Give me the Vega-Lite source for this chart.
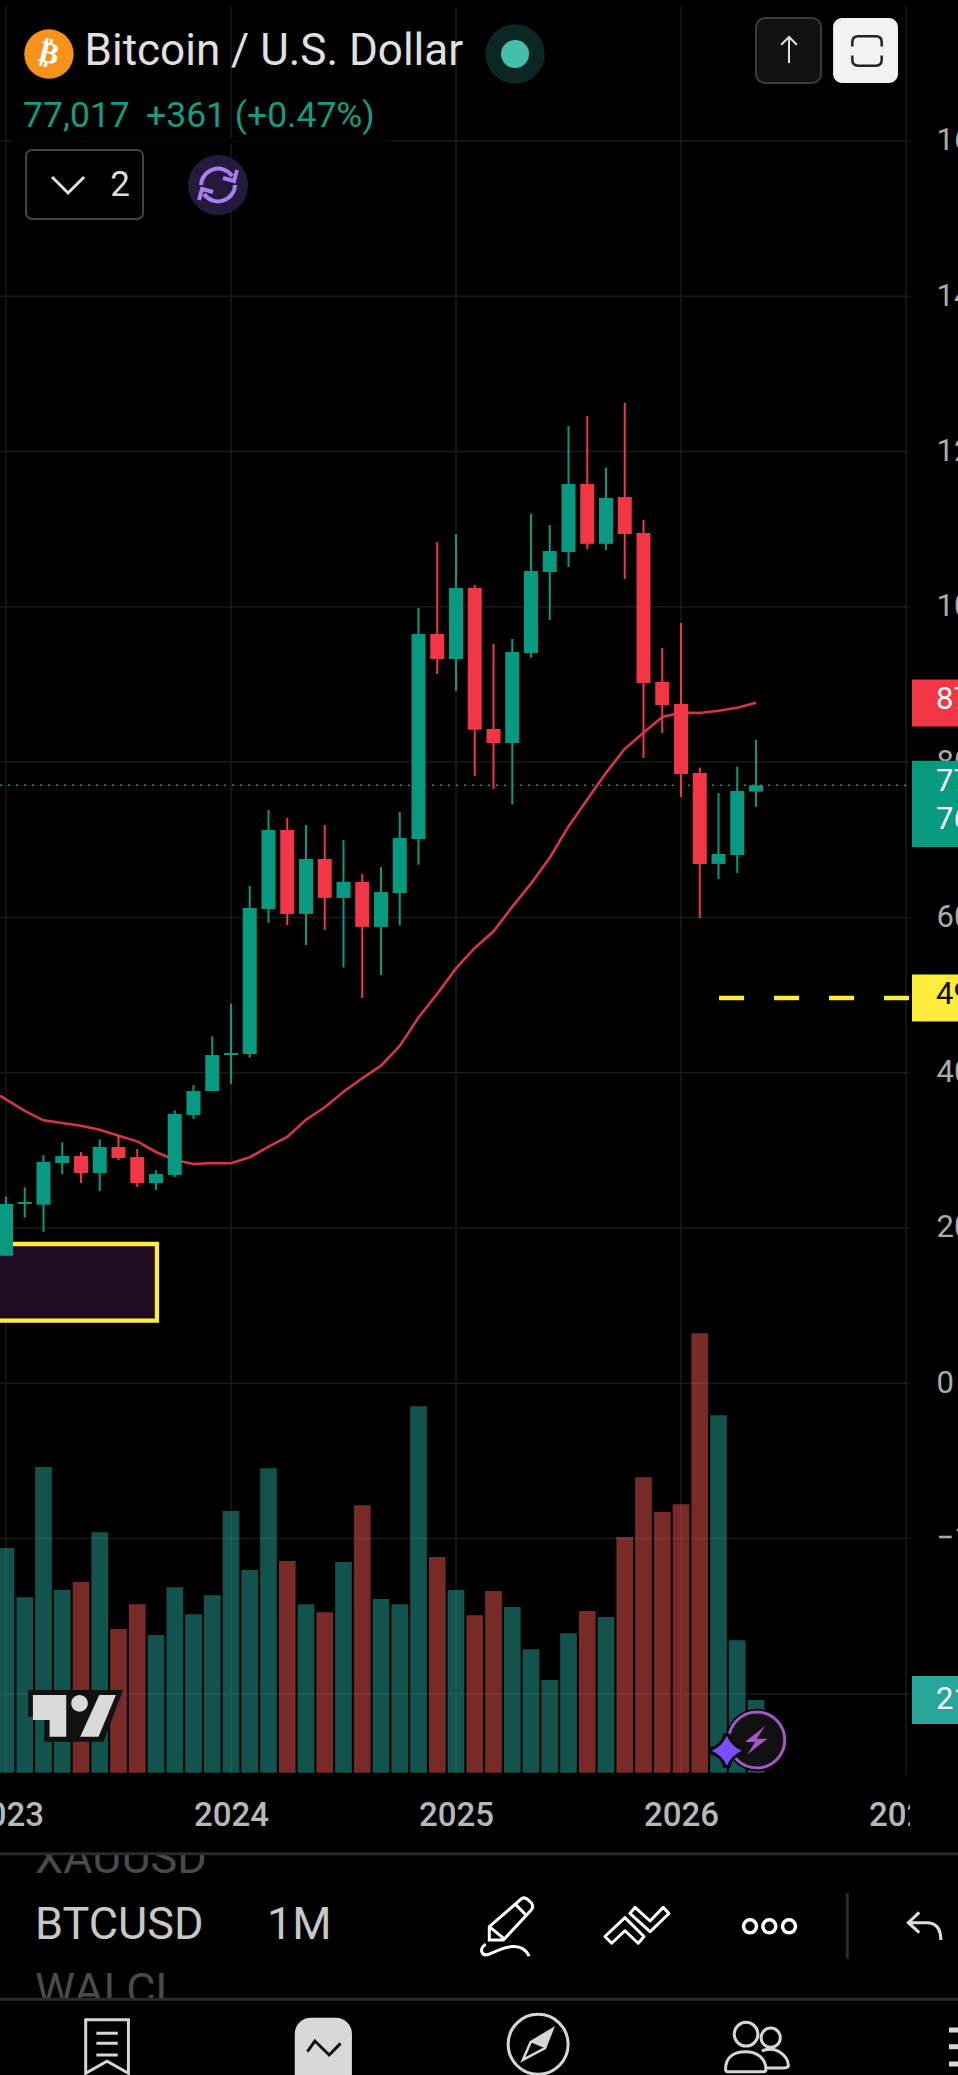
{
  "$schema": "https://vega.github.io/schema/vega-lite/v6.json",
  "width": 958,
  "height": 2075,
  "autosize": {"type": "none"},
  "padding": 0,
  "background": "#000000",
  "config": {"view": {"stroke": null}, "point": {"opacity": 1}, "font": "Roboto"},
  "datasets": {
    "candles": [
      {"m": -12, "open": 16430, "high": 24030, "low": 16430, "close": 23090, "vol": 64.9, "dir": "up"},
      {"m": -11, "open": 23090, "high": 25240, "low": 21330, "close": 23350, "vol": 50.7, "dir": "up"},
      {"m": -10, "open": 23000, "high": 29360, "low": 19520, "close": 28500, "vol": 88.3, "dir": "up"},
      {"m": -9, "open": 28370, "high": 31040, "low": 26950, "close": 29270, "vol": 52.8, "dir": "up"},
      {"m": -8, "open": 29270, "high": 29790, "low": 25790, "close": 27080, "vol": 55.1, "dir": "down"},
      {"m": -7, "open": 27080, "high": 31420, "low": 24760, "close": 30430, "vol": 69.5, "dir": "up"},
      {"m": -6, "open": 30430, "high": 31850, "low": 28760, "close": 29010, "vol": 41.5, "dir": "down"},
      {"m": -5, "open": 29140, "high": 30170, "low": 25280, "close": 25790, "vol": 48.7, "dir": "down"},
      {"m": -4, "open": 25790, "high": 27430, "low": 24890, "close": 26950, "vol": 39.8, "dir": "up"},
      {"m": -3, "open": 26830, "high": 35160, "low": 26570, "close": 34680, "vol": 53.6, "dir": "up"},
      {"m": -2, "open": 34550, "high": 38410, "low": 34040, "close": 37640, "vol": 45.8, "dir": "up"},
      {"m": -1, "open": 37640, "high": 44690, "low": 37640, "close": 42280, "vol": 51.3, "dir": "up"},
      {"m": 0, "open": 42280, "high": 48900, "low": 38540, "close": 42540, "vol": 75.6, "dir": "up"},
      {"m": 1, "open": 42410, "high": 64070, "low": 41930, "close": 61210, "vol": 58.6, "dir": "up"},
      {"m": 2, "open": 61080, "high": 73830, "low": 59290, "close": 71250, "vol": 88.0, "dir": "up"},
      {"m": 3, "open": 71250, "high": 72800, "low": 59020, "close": 60450, "vol": 61.2, "dir": "down"},
      {"m": 4, "open": 60450, "high": 71900, "low": 56440, "close": 67520, "vol": 48.7, "dir": "up"},
      {"m": 5, "open": 67520, "high": 71900, "low": 58380, "close": 62510, "vol": 46.4, "dir": "down"},
      {"m": 6, "open": 62510, "high": 69970, "low": 53550, "close": 64580, "vol": 60.9, "dir": "up"},
      {"m": 7, "open": 64580, "high": 65590, "low": 49630, "close": 58780, "vol": 77.3, "dir": "down"},
      {"m": 8, "open": 58780, "high": 66490, "low": 52580, "close": 63270, "vol": 50.2, "dir": "up"},
      {"m": 9, "open": 63140, "high": 73570, "low": 58960, "close": 70220, "vol": 48.7, "dir": "up"},
      {"m": 10, "open": 70110, "high": 99840, "low": 66770, "close": 96500, "vol": 105.9, "dir": "up"},
      {"m": 11, "open": 96500, "high": 108340, "low": 91340, "close": 93280, "vol": 62.3, "dir": "down"},
      {"m": 12, "open": 93280, "high": 109370, "low": 89150, "close": 102420, "vol": 52.8, "dir": "up"},
      {"m": 13, "open": 102420, "high": 102810, "low": 78210, "close": 84180, "vol": 45.5, "dir": "down"},
      {"m": 14, "open": 84260, "high": 95230, "low": 76530, "close": 82460, "vol": 52.5, "dir": "down"},
      {"m": 15, "open": 82460, "high": 95850, "low": 74540, "close": 94190, "vol": 47.9, "dir": "up"},
      {"m": 16, "open": 94050, "high": 111950, "low": 93440, "close": 104610, "vol": 35.7, "dir": "up"},
      {"m": 17, "open": 104480, "high": 110530, "low": 98300, "close": 107180, "vol": 26.8, "dir": "up"},
      {"m": 18, "open": 107070, "high": 123280, "low": 105120, "close": 115810, "vol": 40.3, "dir": "up"},
      {"m": 19, "open": 115810, "high": 124570, "low": 107440, "close": 108110, "vol": 46.7, "dir": "down"},
      {"m": 20, "open": 108110, "high": 117940, "low": 107310, "close": 114020, "vol": 45.0, "dir": "up"},
      {"m": 21, "open": 114140, "high": 126240, "low": 103580, "close": 109370, "vol": 68.1, "dir": "down"},
      {"m": 22, "open": 109500, "high": 111180, "low": 80530, "close": 90180, "vol": 85.4, "dir": "down"},
      {"m": 23, "open": 90340, "high": 94690, "low": 83750, "close": 87350, "vol": 75.3, "dir": "down"},
      {"m": 24, "open": 87480, "high": 97910, "low": 75500, "close": 78470, "vol": 77.6, "dir": "down"},
      {"m": 25, "open": 78590, "high": 79300, "low": 59920, "close": 66880, "vol": 127.0, "dir": "down"},
      {"m": 26, "open": 66880, "high": 76020, "low": 64940, "close": 68160, "vol": 103.3, "dir": "up"},
      {"m": 27, "open": 68030, "high": 79420, "low": 65720, "close": 76280, "vol": 38.3, "dir": "up"},
      {"m": 28, "open": 76200, "high": 82870, "low": 74240, "close": 77017, "vol": 21.0, "dir": "up"}
    ],
    "ma": [
      {"m": -12.32, "p": 37040}, {"m": -12, "p": 36570}, {"m": -11, "p": 35070}, {"m": -10, "p": 33870},
      {"m": -9, "p": 33520}, {"m": -8, "p": 33170}, {"m": -7, "p": 32660}, {"m": -6, "p": 31890},
      {"m": -5, "p": 31160}, {"m": -4, "p": 29790}, {"m": -3, "p": 28760}, {"m": -2, "p": 28240},
      {"m": -1, "p": 28370}, {"m": 0, "p": 28330}, {"m": 1, "p": 29100}, {"m": 2, "p": 30470},
      {"m": 3, "p": 31720}, {"m": 4, "p": 33950}, {"m": 5, "p": 35540}, {"m": 6, "p": 37550},
      {"m": 7, "p": 39280}, {"m": 8, "p": 40900}, {"m": 9, "p": 43440}, {"m": 10, "p": 47110},
      {"m": 11, "p": 50160}, {"m": 12, "p": 53430}, {"m": 13, "p": 56070}, {"m": 14, "p": 58210},
      {"m": 15, "p": 61360}, {"m": 16, "p": 64350}, {"m": 17, "p": 67690}, {"m": 18, "p": 71720},
      {"m": 19, "p": 75170}, {"m": 20, "p": 78610}, {"m": 21, "p": 81710}, {"m": 22, "p": 83780},
      {"m": 23, "p": 85810}, {"m": 24, "p": 86370}, {"m": 25, "p": 86320}, {"m": 26, "p": 86600},
      {"m": 27, "p": 87000}, {"m": 28, "p": 87640}
    ]
  },
  "resolve": {"scale": {"y": "independent", "color": "independent"}},
  "encoding": {
    "x": {
      "field": "m",
      "type": "quantitative",
      "scale": {"domain": [-12.32, 38.773], "nice": false, "zero": false, "padding": 0},
      "axis": {
        "title": null, "grid": false, "domain": false, "ticks": false,
        "values": [-12, 0, 12, 24, 36],
        "labelExpr": "'' + (2024 + datum.value / 12)",
        "offset": -260, "labelPadding": 0, "labelBaseline": "middle",
        "labelFont": "Roboto", "labelFontSize": 33, "labelFontWeight": 500, "labelColor": "#b8b8b8",
        "labelOverlap": false, "labelFlush": false, "labelBound": false
      }
    },
    "y": {
      "field": "p",
      "type": "quantitative",
      "scale": {"domain": [-89077, 178141], "nice": false, "zero": false},
      "axis": null
    }
  },
  "layer": [
    {
      "encoding": {
        "y": {
          "field": "p",
          "type": "quantitative",
          "scale": {"domain": [-89077, 178141], "nice": false, "zero": false},
          "axis": {
            "orient": "right", "title": null, "grid": false, "domain": false, "ticks": false,
            "values": [160000, 140000, 120000, 100000, 80000, 60000, 40000, 20000, 0, -20000],
            "labelExpr": "datum.value < 0 ? '−19,999.99' : format(datum.value, ',d')",
            "offset": -22, "labelPadding": 0, "labelAlign": "left", "labelBaseline": "middle",
            "labelFont": "Roboto", "labelFontSize": 31, "labelColor": "#aaaaaa",
            "labelOverlap": false, "labelBound": false, "labelFlush": false
          }
        }
      },
      "layer": [
        {
          "data": {"values": [
            {"m": -12.32, "m2": 36.21, "p": 160000}, {"m": -12.32, "m2": 36.21, "p": 140000},
            {"m": -12.32, "m2": 36.21, "p": 120000}, {"m": -12.32, "m2": 36.21, "p": 100000},
            {"m": -12.32, "m2": 36.21, "p": 80000}, {"m": -12.32, "m2": 36.21, "p": 60000},
            {"m": -12.32, "m2": 36.21, "p": 40000}, {"m": -12.32, "m2": 36.21, "p": 20000},
            {"m": -12.32, "m2": 36.21, "p": 0}, {"m": -12.32, "m2": 36.21, "p": -20000},
            {"m": -12.32, "m2": 36.21, "p": -40000}
          ]},
          "mark": {"type": "rule", "stroke": "#1a1a1a", "strokeWidth": 1.5},
          "encoding": {"x2": {"field": "m2"}}
        },
        {
          "data": {"values": [
            {"m": -12, "p": 177240, "p2": -50443}, {"m": 0, "p": 177240, "p2": -50443},
            {"m": 12, "p": 177240, "p2": -50443}, {"m": 24, "p": 177240, "p2": -50443},
            {"m": 36, "p": 177240, "p2": -50443}
          ]},
          "mark": {"type": "rule", "stroke": "#1a1a1a", "strokeWidth": 1.5},
          "encoding": {"y2": {"field": "p2"}}
        },
        {
          "data": {"values": [{"m": -11.68, "m2": 8.53, "p": 160370, "p2": 159597}]},
          "mark": {"type": "rect", "fill": "#000000", "opacity": 0.7},
          "encoding": {"x2": {"field": "m2"}, "y2": {"field": "p2"}}
        }
      ]
    },
    {
      "data": {"name": "candles"},
      "mark": {"type": "bar", "size": 16.7, "opacity": 0.5},
      "encoding": {
        "y": {
          "field": "vol",
          "type": "quantitative",
          "scale": {"domain": [-87.34, 512.2], "nice": false, "zero": false},
          "axis": null
        },
        "y2": {"datum": 0},
        "color": {
          "field": "dir",
          "type": "nominal",
          "scale": {"domain": ["up", "down"], "range": ["#26a69a", "#ef5350"]},
          "legend": null
        }
      }
    },
    {
      "layer": [
        {
          "data": {"values": [{"m": -13, "m2": -3.95, "p": 17940, "p2": 8060}]},
          "mark": {"type": "rect", "fill": "#1f0b22", "stroke": "#ffeb3b", "strokeWidth": 4.3},
          "encoding": {"x2": {"field": "m2"}, "y2": {"field": "p2"}}
        },
        {
          "data": {"values": [{"m": -12.32, "m2": 36.21, "p": 77017}]},
          "mark": {"type": "rule", "stroke": "#089981", "strokeWidth": 1.5, "strokeDash": [2, 6]},
          "encoding": {"x2": {"field": "m2"}}
        },
        {
          "data": {"values": [{"m": 26.03, "m2": 36.16, "p": 49620}]},
          "mark": {"type": "rule", "stroke": "#ffeb3b", "strokeWidth": 4.5, "strokeDash": [25, 30]},
          "encoding": {"x2": {"field": "m2"}}
        },
        {
          "data": {"name": "ma"},
          "mark": {"type": "line", "stroke": "#d63545", "strokeWidth": 2.6},
          "encoding": {}
        },
        {
          "data": {"name": "candles"},
          "mark": {"type": "rule", "strokeWidth": 2},
          "encoding": {
            "y": {"field": "low", "type": "quantitative", "scale": {"domain": [-89077, 178141], "nice": false, "zero": false}, "axis": null},
            "y2": {"field": "high"},
            "color": {"field": "dir", "type": "nominal", "scale": {"domain": ["up", "down"], "range": ["#089981", "#f23645"]}, "legend": null}
          }
        },
        {
          "data": {"name": "candles"},
          "mark": {"type": "bar", "size": 14},
          "encoding": {
            "y": {"field": "open", "type": "quantitative", "scale": {"domain": [-89077, 178141], "nice": false, "zero": false}, "axis": null},
            "y2": {"field": "close"},
            "color": {"field": "dir", "type": "nominal", "scale": {"domain": ["up", "down"], "range": ["#089981", "#f23645"]}, "legend": null}
          }
        },
        {
          "data": {"values": [{"m": 36.32, "m2": 38.8, "p": 90622, "p2": 84596}]},
          "mark": {"type": "rect", "fill": "#f23645"},
          "encoding": {"x2": {"field": "m2"}, "y2": {"field": "p2"}}
        },
        {
          "data": {"values": [{"m": 36.32, "m2": 38.8, "p": 80166, "p2": 69065}]},
          "mark": {"type": "rect", "fill": "#089981"},
          "encoding": {"x2": {"field": "m2"}, "y2": {"field": "p2"}}
        },
        {
          "data": {"values": [{"m": 36.32, "m2": 38.8, "p": 52632, "p2": 46593}]},
          "mark": {"type": "rect", "fill": "#ffeb3b"},
          "encoding": {"x2": {"field": "m2"}, "y2": {"field": "p2"}}
        },
        {
          "data": {"values": [{"m": 36.32, "m2": 38.8, "p": -37694, "p2": -43875}]},
          "mark": {"type": "rect", "fill": "#26a69a"},
          "encoding": {"x2": {"field": "m2"}, "y2": {"field": "p2"}}
        },
        {
          "data": {"values": [
            {"m": 37.6, "p": 87995, "label": "87,281"},
            {"m": 37.6, "p": 77435, "label": "77,017"},
            {"m": 37.6, "p": 72580, "label": "76,656"},
            {"m": 37.6, "p": -40785, "label": "21.4K"}
          ]},
          "mark": {"type": "text", "align": "left", "baseline": "middle", "font": "Roboto", "fontSize": 31, "fill": "#ffffff"},
          "encoding": {"text": {"field": "label"}}
        },
        {
          "data": {"values": [{"m": 37.6, "p": 50006, "label": "49,620"}]},
          "mark": {"type": "text", "align": "left", "baseline": "middle", "font": "Roboto", "fontSize": 31, "fill": "#111111"},
          "encoding": {"text": {"field": "label"}}
        },
        {
          "data": {"values": [{"m": -7.81, "p": 171445, "label": "Bitcoin / U.S. Dollar"}]},
          "mark": {"type": "text", "align": "left", "baseline": "middle", "font": "Roboto", "fontSize": 44, "fill": "#e0e0e0"},
          "encoding": {"text": {"field": "label"}}
        },
        {
          "data": {"values": [
            {"m": -11.09, "p": 163203, "label": "77,017"},
            {"m": -4.53, "p": 163203, "label": "+361 (+0.47%)"}
          ]},
          "mark": {"type": "text", "align": "left", "baseline": "middle", "font": "Roboto", "fontSize": 35.5, "fill": "#189a84"},
          "encoding": {"text": {"field": "label"}}
        },
        {
          "data": {"values": [{"m": -9.71, "p": 171188}]},
          "mark": {"type": "point", "shape": "circle", "size": 2440, "filled": true, "fill": "#f7931a"}
        },
        {
          "data": {"values": [{"m": -9.71, "p": 171188, "label": "₿"}]},
          "mark": {"type": "text", "align": "center", "baseline": "middle", "font": "DejaVu Sans", "fontSize": 30, "fontWeight": "bold", "angle": 14, "fill": "#ffffff"},
          "encoding": {"text": {"field": "label"}}
        },
        {
          "data": {"values": [{"m": 15.15, "p": 171188}]},
          "mark": {"type": "point", "shape": "circle", "size": 3528, "filled": true, "fill": "#0a2723"}
        },
        {
          "data": {"values": [{"m": 15.15, "p": 171188}]},
          "mark": {"type": "point", "shape": "circle", "size": 784, "filled": true, "fill": "#45bfa9"}
        },
        {
          "data": {"values": [{"m": 28, "m2": 31.47, "p": 175823, "p2": 167453}]},
          "mark": {"type": "rect", "fill": "#111111", "stroke": "#3c3c3c", "strokeWidth": 2, "cornerRadius": 9},
          "encoding": {"x2": {"field": "m2"}, "y2": {"field": "p2"}}
        },
        {
          "data": {"values": [{"m": 32.11, "m2": 35.57, "p": 175823, "p2": 167453}]},
          "mark": {"type": "rect", "fill": "#f2f2f2", "cornerRadius": 9},
          "encoding": {"x2": {"field": "m2"}, "y2": {"field": "p2"}}
        },
        {
          "data": {"values": [{"m": 29.76, "p": 171700}]},
          "mark": {"type": "point", "shape": "M0,1 L0,-1 M-0.6,-0.4 L0,-1 L0.6,-0.4", "size": 676, "filled": false, "stroke": "#e0e0e0", "strokeWidth": 2}
        },
        {
          "data": {"values": [{"m": 33.92, "p": 171574}]},
          "mark": {"type": "point", "shape": "M-1,-0.3 L-1,-0.6 Q-1,-1 -0.6,-1 L0.6,-1 Q1,-1 1,-0.6 L1,-0.3 M-1,0.3 L-1,0.6 Q-1,1 -0.6,1 L0.6,1 Q1,1 1,0.6 L1,0.3", "size": 864, "filled": false, "stroke": "#222222", "strokeWidth": 2.5}
        },
        {
          "data": {"values": [{"m": -10.93, "m2": -4.69, "p": 158825, "p2": 149939}]},
          "mark": {"type": "rect", "fill": "#000000", "stroke": "#444444", "strokeWidth": 2, "cornerRadius": 6},
          "encoding": {"x2": {"field": "m2"}, "y2": {"field": "p2"}}
        },
        {
          "data": {"values": [{"m": -8.69, "p": 154317}]},
          "mark": {"type": "point", "shape": "M-1,-0.5 L0,0.5 L1,-0.5", "size": 1024, "filled": false, "stroke": "#e0e0e0", "strokeWidth": 3}
        },
        {
          "data": {"values": [{"m": -5.92, "p": 154317, "label": "2"}]},
          "mark": {"type": "text", "align": "center", "baseline": "middle", "font": "Roboto", "fontSize": 35, "fill": "#dddddd"},
          "encoding": {"text": {"field": "label"}}
        },
        {
          "data": {"values": [{"m": -0.69, "p": 154317}]},
          "mark": {"type": "point", "shape": "circle", "size": 3600, "filled": true, "fill": "#251a3c"}
        },
        {
          "data": {"values": [{"m": -0.69, "p": 154317}]},
          "mark": {"type": "point", "shape": "M-0.85,0 A0.85,0.85 0 0 1 0.7,-0.45 M0.95,-0.75 L0.8,-0.2 L0.25,-0.35 M0.85,0 A0.85,0.85 0 0 1 -0.7,0.45 M-0.95,0.75 L-0.8,0.2 L-0.25,0.35", "size": 1600, "filled": false, "stroke": "#a77ff0", "strokeWidth": 4}
        },
        {
          "data": {"values": [{"m": -8.29, "p": -42845}]},
          "mark": {"type": "point", "shape": "M-1,-0.547 L1,-0.547 L0.59,0.54 L-0.66,0.54 L-0.66,0.014 L-1,0.014 Z", "size": 9025, "filled": true, "fill": "#111111"}
        },
        {
          "data": {"values": [{"m": -8.29, "p": -42845}]},
          "mark": {"type": "point", "shape": "M-0.898,-0.442 L-0.196,-0.442 L-0.196,0.435 L-0.547,0.435 L-0.547,0.084 L-0.898,0.084 Z M0.498,-0.442 L0.849,-0.442 L0.484,0.435 L0.098,0.435 Z M-0.091,-0.267 A0.175,0.175 0 1 0 0.259,-0.267 A0.175,0.175 0 1 0 -0.091,-0.267 Z", "size": 9025, "filled": true, "fill": "#d9d9d9"}
        },
        {
          "data": {"values": [{"m": 28.04, "p": -45936}]},
          "mark": {"type": "point", "shape": "circle", "size": 3844, "filled": true, "fill": "#000000"}
        },
        {
          "data": {"values": [{"m": 28.04, "p": -45936}]},
          "mark": {"type": "point", "shape": "circle", "size": 3136, "filled": true, "fill": "#111111", "stroke": "#a855c8", "strokeWidth": 3}
        },
        {
          "data": {"values": [{"m": 28.04, "p": -45936}]},
          "mark": {"type": "point", "shape": "M0.55,-0.93 L-0.78,0.13 L-0.11,0.13 L-0.62,0.96 L0.71,-0.09 L0,-0.09 Z", "size": 900, "filled": true, "fill": "#ab52cf"}
        },
        {
          "data": {"values": [{"m": 26.44, "p": -47314}]},
          "mark": {"type": "point", "shape": "M0,-1 Q0.15,-0.15 1,0 Q0.15,0.15 0,1 Q-0.15,0.15 -1,0 Q-0.15,-0.15 0,-1 Z", "size": 1100, "filled": true, "fill": "#0a0a0a", "stroke": "#0a0a0a", "strokeWidth": 7}
        },
        {
          "data": {"values": [{"m": 26.44, "p": -47314}]},
          "mark": {"type": "point", "shape": "M0,-1 Q0.3,-0.3 1,0 Q0.3,0.3 0,1 Q-0.3,0.3 -1,0 Q-0.3,-0.3 0,-1 Z", "size": 900, "filled": true, "fill": "#7c4dff"}
        },
        {
          "data": {"values": [
            {"m": -10.45, "p": -61261, "label": "XAUUSD"},
            {"m": -10.45, "p": -78260, "label": "WALCL"}
          ]},
          "mark": {"type": "text", "align": "left", "baseline": "middle", "font": "Roboto", "fontSize": 45, "fill": "#4a4a4a"},
          "encoding": {"text": {"field": "label"}}
        },
        {
          "data": {"values": [
            {"m": -10.45, "p": -69760, "label": "BTCUSD"},
            {"m": 1.92, "p": -69760, "label": "1M"}
          ]},
          "mark": {"type": "text", "align": "left", "baseline": "middle", "font": "Roboto", "fontSize": 45, "fill": "#c8c8c8"},
          "encoding": {"text": {"field": "label"}}
        },
        {
          "data": {"values": [
            {"m": -12.32, "m2": 38.8, "p": -58170, "p2": -60578},
            {"m": -12.32, "m2": 38.8, "p": -79328, "p2": -89077},
            {"m": 36.21, "m2": 38.8, "p": -52374, "p2": -58813}
          ]},
          "mark": {"type": "rect", "fill": "#000000"},
          "encoding": {"x2": {"field": "m2"}, "y2": {"field": "p2"}}
        },
        {
          "data": {"values": [
            {"m": -12.32, "m2": 38.8, "p": -60578},
            {"m": -12.32, "m2": 38.8, "p": -79328}
          ]},
          "mark": {"type": "rule", "stroke": "#2a2a2a", "strokeWidth": 3},
          "encoding": {"x2": {"field": "m2"}}
        },
        {
          "data": {"values": [{"m": 14.72, "p": -69979}]},
          "mark": {"type": "point", "shape": "M-0.59,0.44 L-0.59,0 L0.49,-0.94 Q0.6,-1 0.72,-0.88 L0.82,-0.78 Q0.9,-0.65 0.8,-0.55 L-0.12,0.44 Z M0.27,-0.76 L0.63,-0.39 M-0.55,0.03 L-0.12,0.38 M-0.71,0.58 C-0.95,0.75 -0.85,1 -0.6,0.92 C-0.2,0.75 0.45,0.4 0.74,0.98", "size": 3600, "filled": false, "stroke": "#ffffff", "strokeWidth": 3}
        },
        {
          "data": {"values": [{"m": 21.65, "p": -69760}]},
          "mark": {"type": "point", "shape": "M-1,0.36 L-0.375,-0.23 L0.22,0.36 L0.04,0.57 L-0.375,0.18 L-0.79,0.57 Z M-0.22,-0.36 L-0.06,-0.55 L0.41,-0.125 L0.82,-0.55 L1,-0.36 L0.41,0.21 Z", "size": 4096, "filled": false, "stroke": "#ffffff", "strokeWidth": 3, "strokeJoin": "round"}
        },
        {
          "data": {"values": [{"m": 27.68, "p": -69928}, {"m": 28.71, "p": -69928}, {"m": 29.76, "p": -69928}]},
          "mark": {"type": "point", "shape": "circle", "size": 169, "filled": false, "stroke": "#ffffff", "strokeWidth": 3.5}
        },
        {
          "data": {"values": [{"m": 32.87, "p": -65639, "p2": -74100}]},
          "mark": {"type": "rule", "stroke": "#2a2a2a", "strokeWidth": 3},
          "encoding": {"y2": {"field": "p2"}}
        },
        {
          "data": {"values": [{"m": 37.01, "p": -69888}]},
          "mark": {"type": "point", "shape": "M-0.32,-0.77 L-0.94,-0.19 L-0.32,0.38 M-0.94,-0.19 L0.1,-0.19 Q0.9,-0.19 0.9,0.79", "size": 1253, "filled": false, "stroke": "#dddddd", "strokeWidth": 3}
        },
        {
          "data": {"values": [{"m": -6.61, "p": -85407}]},
          "mark": {"type": "point", "shape": "M-0.8,-1 L0.8,-1 L0.8,1 L0,0.55 L-0.8,1 Z M-0.4,-0.5 L0.4,-0.5 M-0.4,-0.12 L0.4,-0.12 M-0.4,0.32 L0.4,0.32", "size": 2852, "filled": false, "stroke": "#d6d6d6", "strokeWidth": 3}
        },
        {
          "data": {"values": [{"m": 3.4, "m2": 6.45, "p": -81698, "p2": -92000}]},
          "mark": {"type": "rect", "fill": "#d8d8d8", "cornerRadius": 16},
          "encoding": {"x2": {"field": "m2"}, "y2": {"field": "p2"}}
        },
        {
          "data": {"values": [{"m": 4.96, "p": -85665}]},
          "mark": {"type": "point", "shape": "M-1,0.19 L-0.55,-0.45 L0.31,0.39 L1,-0.31", "size": 1102, "filled": false, "stroke": "#111111", "strokeWidth": 3}
        },
        {
          "data": {"values": [{"m": 16.38, "p": -85124}]},
          "mark": {"type": "point", "shape": "circle", "size": 3600, "filled": false, "stroke": "#d6d6d6", "strokeWidth": 3}
        },
        {
          "data": {"values": [{"m": 16.38, "p": -85124}]},
          "mark": {"type": "point", "shape": "M0.48,-0.51 L-0.25,-0.07 L-0.51,0.52 L0.23,0.13 Z", "size": 3600, "filled": false, "stroke": "#d6d6d6", "strokeWidth": 2.5}
        },
        {
          "data": {"values": [{"m": 16.38, "p": -85124}]},
          "mark": {"type": "point", "shape": "M0.48,-0.51 L-0.25,-0.07 L0.23,0.13 Z", "size": 3600, "filled": true, "fill": "#d6d6d6"}
        },
        {
          "data": {"values": [{"m": 28.05, "p": -85471}]},
          "mark": {"type": "point", "shape": "M-0.71,-0.4 A0.37,0.37 0 1 1 0.03,-0.4 A0.37,0.37 0 1 1 -0.71,-0.4 M0.13,-0.29 A0.3,0.3 0 1 1 0.73,-0.29 A0.3,0.3 0 1 1 0.13,-0.29 M-0.98,0.7 C-0.98,0.3 -0.7,0.15 -0.35,0.15 C0,0.15 0.28,0.35 0.28,0.7 Q0.28,0.77 0.2,0.77 L-0.9,0.77 Q-0.98,0.77 -0.98,0.7 Z M0.15,0.12 Q0.45,0 0.7,0.15 Q1,0.35 0.98,0.6 Q0.95,0.66 0.85,0.66 L0.28,0.66", "size": 4096, "filled": false, "stroke": "#d6d6d6", "strokeWidth": 3}
        },
        {
          "data": {"values": [
            {"m": 38.29, "m2": 38.8, "p": -83282},
            {"m": 38.29, "m2": 38.8, "p": -85433},
            {"m": 38.29, "m2": 38.8, "p": -87661}
          ]},
          "mark": {"type": "rule", "stroke": "#d6d6d6", "strokeWidth": 5},
          "encoding": {"x2": {"field": "m2"}}
        }
      ]
    }
  ]
}
